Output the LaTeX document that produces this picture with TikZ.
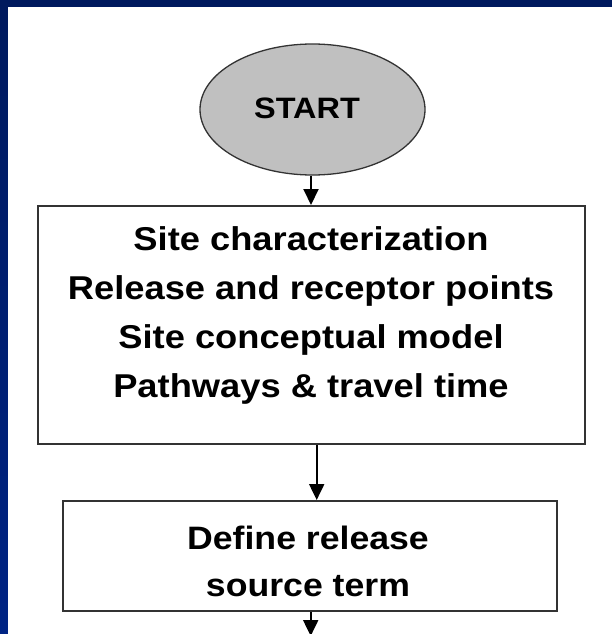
\documentclass[tikz,border=0pt]{standalone}
\usepackage{fontspec}
\setmainfont{Liberation Sans}[FakeStretch=1.1]
\usetikzlibrary{shapes.geometric,arrows.meta}
\definecolor{navytop}{HTML}{001A5E}
\definecolor{navybot}{HTML}{002484}
\definecolor{startgray}{HTML}{C0C0C0}
\definecolor{edgegray}{HTML}{333333}
\tikzset{
  boxnode/.style={draw=edgegray, line width=2pt, fill=white, inner sep=0pt},
  startnode/.style={ellipse, draw=edgegray, line width=1.3pt, fill=startgray, inner sep=0pt},
  bigtext/.style={font=\bfseries\fontsize{33}{40}\selectfont, anchor=base, inner sep=0pt},
  midtext/.style={font=\bfseries\fontsize{32.4}{40}\selectfont, anchor=base, inner sep=0pt},
  starttext/.style={font=\bfseries\fontsize{29.5}{36}\selectfont, anchor=base, inner sep=0pt},
  flow/.style={line width=2pt, -{Triangle[width=15pt,length=16pt]}},
}
\begin{document}
\begin{tikzpicture}[x=1pt,y=-1pt]
\useasboundingbox (0,0) rectangle (612,634);
\shade[top color=navytop, bottom color=navybot] (0,0) rectangle (612,634);
\fill[white] (8,7) rectangle (612,634);
% START
\node[startnode, minimum width=225pt, minimum height=131pt] (start) at (312.5,109.5) {};
\node[starttext] (starttxt) at (307,118.3) {START};
% box 1
\node[boxnode, minimum width=547pt, minimum height=238pt] (site) at (311.5,325) {};
\node[bigtext] (s1) at (311,250) {Site characterization};
\node[bigtext] (s2) at (311,299) {Release and receptor points};
\node[bigtext] (s3) at (311,348) {Site conceptual model};
\node[bigtext] (s4) at (311,397) {Pathways \& travel time};
% box 2
\node[boxnode, minimum width=494pt, minimum height=110pt] (def) at (310,556) {};
\node[midtext] (d1) at (308,549.3) {Define release};
\node[midtext] (d2) at (308,596) {source term};
% arrows
\draw[flow] ([xshift=-1.5pt]start.south) -- ([xshift=-1.5pt]start.south |- site.north);
\draw[flow] ([xshift=5.2pt]site.south) -- ([xshift=5.2pt]site.south |- def.north);
\coordinate (next) at (310.7,636);
\draw[flow] (def.south -| next) -- (next);
\end{tikzpicture}
\end{document}
